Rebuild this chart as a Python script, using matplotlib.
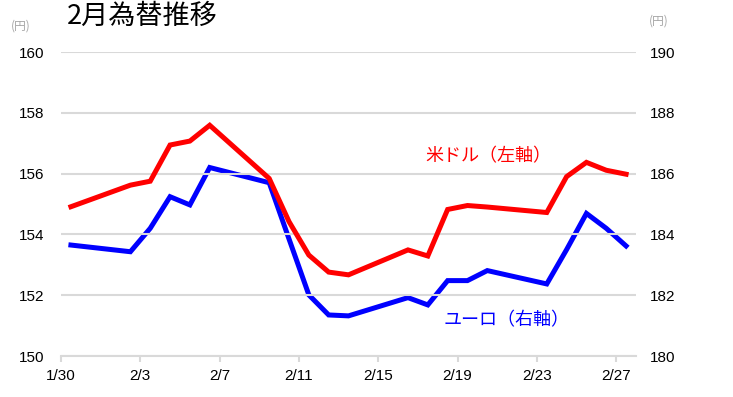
import numpy as np
import pandas as pd
import matplotlib
matplotlib.use('Agg')
import matplotlib.pyplot as plt
import matplotlib.dates as mdates

# trading days (Feb 2026), plotted at mid-day like Excel "between tick marks"
dates = ['2026-01-30',
         '2026-02-02', '2026-02-03', '2026-02-04', '2026-02-05', '2026-02-06',
         '2026-02-09', '2026-02-10', '2026-02-11', '2026-02-12', '2026-02-13',
         '2026-02-16', '2026-02-17', '2026-02-18', '2026-02-19', '2026-02-20',
         '2026-02-23', '2026-02-24', '2026-02-25', '2026-02-26', '2026-02-27']
usd = [154.91, 155.62, 155.75, 156.94, 157.07, 157.59,
       155.84, 154.42, 153.32, 152.76, 152.67,
       153.49, 153.29, 154.82, 154.95, 154.90,
       154.72, 155.90, 156.37, 156.11, 155.98]
eur = [183.65, 183.43, 184.20, 185.24, 184.97, 186.20,
       185.70, 183.85, 182.01, 181.35, 181.32,
       181.92, 181.68, 182.48, 182.48, 182.81,
       182.37, 183.50, 184.69, 184.20, 183.62]
tick_dates = ['2026-01-30', '2026-02-03', '2026-02-07', '2026-02-11',
              '2026-02-15', '2026-02-19', '2026-02-23', '2026-02-27']
tick_labels = ['1/30', '2/3', '2/7', '2/11', '2/15', '2/19', '2/23', '2/27']
left_ticks = [150, 152, 154, 156, 158, 160]
right_ticks = [180, 182, 184, 186, 188, 190]

jp = ['Noto Sans CJK JP', 'DejaVu Sans']
num = ['Liberation Sans', 'DejaVu Sans']

x = pd.to_datetime(dates) + pd.Timedelta(hours=12)
xt = pd.to_datetime(tick_dates)

fig = plt.figure(figsize=(7.33, 3.97), dpi=100)
ax = fig.add_axes([61/733, 1 - 356/397, (636-61)/733, (356-52)/397])
ax2 = ax.twinx()

ax.plot(x, usd, color='#ff0000', lw=3.6, solid_joinstyle='miter', zorder=3)
ax2.plot(x, eur, color='#0000ff', lw=3.6, solid_joinstyle='miter', zorder=3)

ax.set_xlim(pd.Timestamp('2026-01-30'), pd.Timestamp('2026-02-28'))
ax.set_ylim(150, 160)
ax2.set_ylim(180, 190)

ax.set_yticks(left_ticks)
ax.set_yticklabels([str(v) for v in left_ticks], family=num, fontsize=11)
ax2.set_yticks(right_ticks)
ax2.set_yticklabels([str(v) for v in right_ticks], family=num, fontsize=11)
ax.set_xticks(xt)
ax.set_xticklabels(tick_labels, family=num, fontsize=11)

ax.grid(axis='y', color='#d9d9d9', lw=1.5)
ax.set_axisbelow(True)
for a in (ax, ax2):
    for s in ('top', 'left', 'right', 'bottom'):
        a.spines[s].set_visible(False)
ax.tick_params(axis='y', length=0, pad=12)
ax2.tick_params(axis='y', length=0, pad=10)
ax.tick_params(axis='x', length=4, width=1.5, color='#d9d9d9', pad=5)

ax.set_zorder(ax2.get_zorder() + 1)
ax.patch.set_visible(False)
ax.spines['bottom'].set_visible(True)
ax.spines['bottom'].set_color('#d9d9d9')
ax.spines['bottom'].set_linewidth(1.5)

fig.text(67/733, 1 - 16/397, '2月為替推移', family=jp, fontsize=19.5,
         va='center', ha='left')
fig.text(11/733, 1 - 26/397, '(円)', family=jp, fontsize=8.5,
         color='#a6a6a6', va='center')
fig.text(649/733, 1 - 21/397, '(円)', family=jp, fontsize=8.5,
         color='#a6a6a6', va='center')

ax.text(pd.Timestamp('2026-02-17 09:00'), 156.57, '米ドル（左軸）',
        family=jp, fontsize=13, color='#ff0000', va='center', ha='left')
ax.text(pd.Timestamp('2026-02-18 07:00'), 151.19, 'ユーロ（右軸）',
        family=jp, fontsize=13, color='#0000ff', va='center', ha='left')

fig.savefig('out.png', dpi=100)
